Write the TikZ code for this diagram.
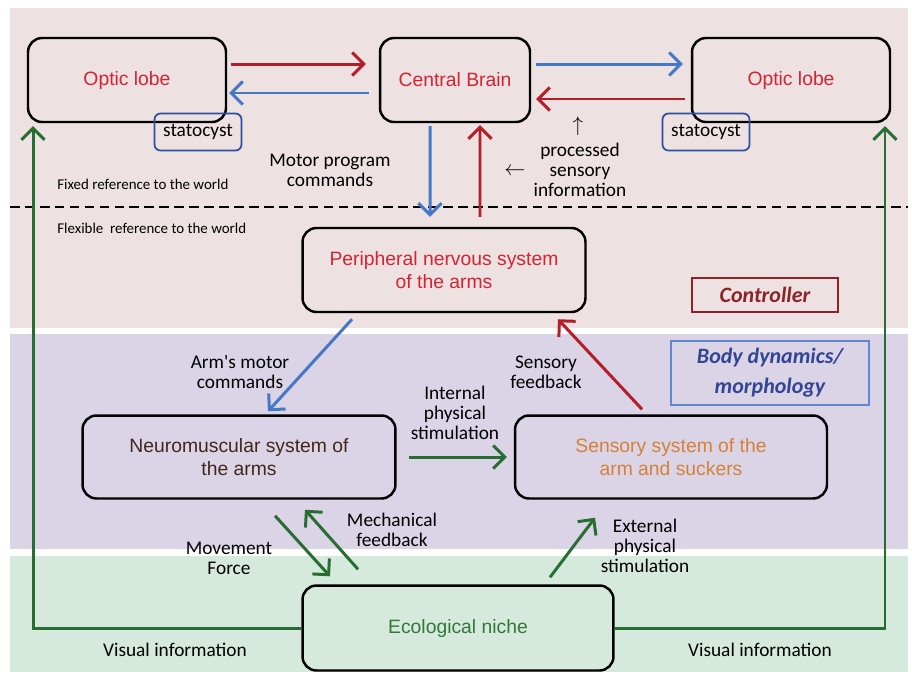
\documentclass[tikz,border=0pt]{standalone}
\usepackage{fontspec}
\setmainfont{Liberation Sans}
\newfontfamily\labelfont{Carlito}
\usetikzlibrary{positioning, arrows.meta}
\definecolor{bgpink}{RGB}{237, 225, 225}
\definecolor{bgpurple}{RGB}{219, 211, 230}
\definecolor{bggreen}{RGB}{213, 234, 221}
\definecolor{txtred}{RGB}{212, 35, 50}
\definecolor{arrred}{RGB}{180, 30, 40}
\definecolor{arrblue}{RGB}{70, 120, 200}
\definecolor{arrgreen}{RGB}{40, 110, 50}
\definecolor{txtgreen}{RGB}{50, 120, 55}
\definecolor{txtorange}{RGB}{212, 130, 55}
\definecolor{txtbrown}{RGB}{65, 40, 25}
\definecolor{ctrlred}{RGB}{140, 35, 40}
\definecolor{bodyblue}{RGB}{50, 70, 150}
\definecolor{bodyedge}{RGB}{95, 135, 210}
\definecolor{statblue}{RGB}{45, 80, 160}

\begin{document}
\begin{tikzpicture}[x=0.02cm, y=-0.02cm,
    box/.style={draw=black, line width=1.4pt, rounded corners=0.28cm,
        align=center, font=\fontsize{11}{13}\selectfont},
    statbox/.style={draw=statblue, line width=1pt, rounded corners=0.12cm,
        minimum width=1.74cm, minimum height=0.74cm, inner sep=0pt,
        font=\labelfont\fontsize{11}{12}\selectfont},
    lbl/.style={align=center, inner sep=0pt,
        font=\labelfont\fontsize{11}{11.5}\selectfont},
    worldlbl/.style={anchor=west, inner sep=0pt,
        font=\labelfont\fontsize{8.5}{10}\selectfont},
    redarr/.style={draw=arrred, line width=1.7pt,
        -{Straight Barb[length=2.3mm, width=4.6mm]}},
    bluearr/.style={draw=arrblue, line width=1.7pt,
        -{Straight Barb[length=2.3mm, width=4.6mm]}},
    greenarr/.style={draw=arrgreen, line width=1.7pt,
        -{Straight Barb[length=2.3mm, width=4.6mm]}}]

    \useasboundingbox (0, 0) rectangle (912, 674);
    \fill[bgpink] (10, 8) rectangle (908, 328);
    \fill[bgpurple] (10, 334) rectangle (908, 549);
    \fill[bggreen] (10, 556) rectangle (908, 672);

    \draw[line width=1.3pt, dash pattern=on 5.5pt off 3pt]
        (10, 207) -- (908, 207);
    \node[worldlbl] (fixed) at (57, 184) {Fixed reference to the world};
    \node[worldlbl] (flexible) at (57, 228)
        {Flexible\ \ reference to the world};

    \node[box, minimum width=3.96cm, minimum height=1.68cm,
          text=txtred] (olL) at (127, 80) {Optic lobe};
    \node[box, minimum width=3.0cm, minimum height=1.68cm,
          text=txtred] (brain) at (455, 80) {Central Brain};
    \node[box, minimum width=3.96cm, minimum height=1.68cm,
          text=txtred] (olR) at (791, 80) {Optic lobe};
    \node[statbox] (statL) at (198, 132) {statocyst};
    \node[statbox] (statR) at (706, 132) {statocyst};

    \node[box, minimum width=5.66cm, minimum height=1.68cm,
          text=txtred] (periph) at (444, 270)
        {Peripheral nervous system\\of the arms};
    \node[draw=ctrlred, line width=0.8pt, minimum width=2.92cm,
          minimum height=0.68cm, text=ctrlred,
          font=\labelfont\bfseries\itshape\fontsize{12.5}{14}\selectfont]
        (ctrl) at (765, 295) {Controller};
    \node[draw=bodyedge, line width=0.8pt, minimum width=3.96cm,
          minimum height=1.28cm, text=bodyblue, align=center,
          font=\labelfont\bfseries\itshape\fontsize{12.5}{17}\selectfont]
        (body) at (770, 373) {Body dynamics/\\morphology};

    \node[box, minimum width=6.26cm, minimum height=1.66cm,
          text=txtbrown] (neuro) at (239, 457)
        {Neuromuscular system of\\the arms};
    \node[box, minimum width=6.24cm, minimum height=1.66cm,
          text=txtorange] (sensory) at (671, 457)
        {Sensory system of the\\arm and suckers};
    \node[box, minimum width=6.22cm, minimum height=1.7cm,
          text=txtgreen] (eco) at (458, 628) {Ecological niche};

    \draw[redarr] ([xshift=0.08cm, yshift=0.32cm]olL.east)
        -- ([xshift=-0.26cm, yshift=0.32cm]brain.west);
    \draw[bluearr] ([xshift=-0.2cm, yshift=-0.26cm]brain.west)
        -- ([xshift=0.04cm, yshift=-0.26cm]olL.east);
    \draw[bluearr] ([xshift=0.1cm, yshift=0.32cm]brain.east)
        -- ([xshift=-0.16cm, yshift=0.32cm]olR.west);
    \draw[redarr] ([xshift=-0.12cm, yshift=-0.38cm]olR.west)
        -- ([xshift=0.1cm, yshift=-0.38cm]brain.east);

    \draw[bluearr] ([xshift=-0.5cm, yshift=-0.06cm]brain.south)
        -- ([xshift=-0.28cm, yshift=0.2cm]periph.north);
    \draw[redarr] ([xshift=0.72cm, yshift=0.2cm]periph.north)
        -- ([xshift=0.5cm, yshift=-0.04cm]brain.south);
    \node[lbl] (motorlbl) at (330, 170) {Motor program\\commands};
    \node[lbl] (proclbl) at (580, 170) {processed\\sensory\\information};
    \node[inner sep=0pt, font=\large] (upmark) at (578, 126) {$\uparrow$};
    \node[inner sep=0pt, font=\large] (leftmark) at (515, 172) {$\leftarrow$};

    \draw[bluearr] ([xshift=-1.84cm, yshift=-0.12cm]periph.south)
        -- ([xshift=0.58cm, yshift=0.06cm]neuro.north);
    \draw[redarr] ([xshift=-0.58cm, yshift=0.1cm]sensory.north)
        -- ([xshift=2.28cm, yshift=-0.12cm]periph.south);
    \draw[greenarr] ([xshift=0.24cm]neuro.east)
        -- ([xshift=-0.14cm]sensory.west);
    \node[lbl] (armlbl) at (240, 372) {Arm's motor\\commands};
    \node[lbl] (sfblbl) at (546, 372) {Sensory\\feedback};
    \node[lbl] (intlbl) at (455, 413) {Internal\\physical\\stimulation};

    \draw[greenarr] ([xshift=0.72cm, yshift=-0.32cm]neuro.south)
        -- ([xshift=-2.56cm, yshift=0.16cm]eco.north);
    \draw[greenarr] ([xshift=-2.0cm, yshift=0.3cm]eco.north)
        -- ([xshift=1.32cm, yshift=-0.2cm]neuro.south);
    \draw[greenarr] ([xshift=1.84cm, yshift=0.14cm]eco.north)
        -- ([xshift=-1.52cm, yshift=-0.36cm]sensory.south);
    \node[lbl] (movelbl) at (229, 558) {Movement\\Force};
    \node[lbl] (mechlbl) at (392, 530) {Mechanical\\feedback};
    \node[lbl] (extlbl) at (645, 546) {External\\physical\\stimulation};

    \draw[greenarr] (eco.west)
        -| ([xshift=-1.88cm, yshift=-0.06cm]olL.south);
    \draw[greenarr] (eco.east)
        -| ([xshift=1.88cm, yshift=-0.06cm]olR.south);
    \node[lbl] (visL) at (175, 650) {Visual information};
    \node[lbl] (visR) at (760, 650) {Visual information};
\end{tikzpicture}
\end{document}
